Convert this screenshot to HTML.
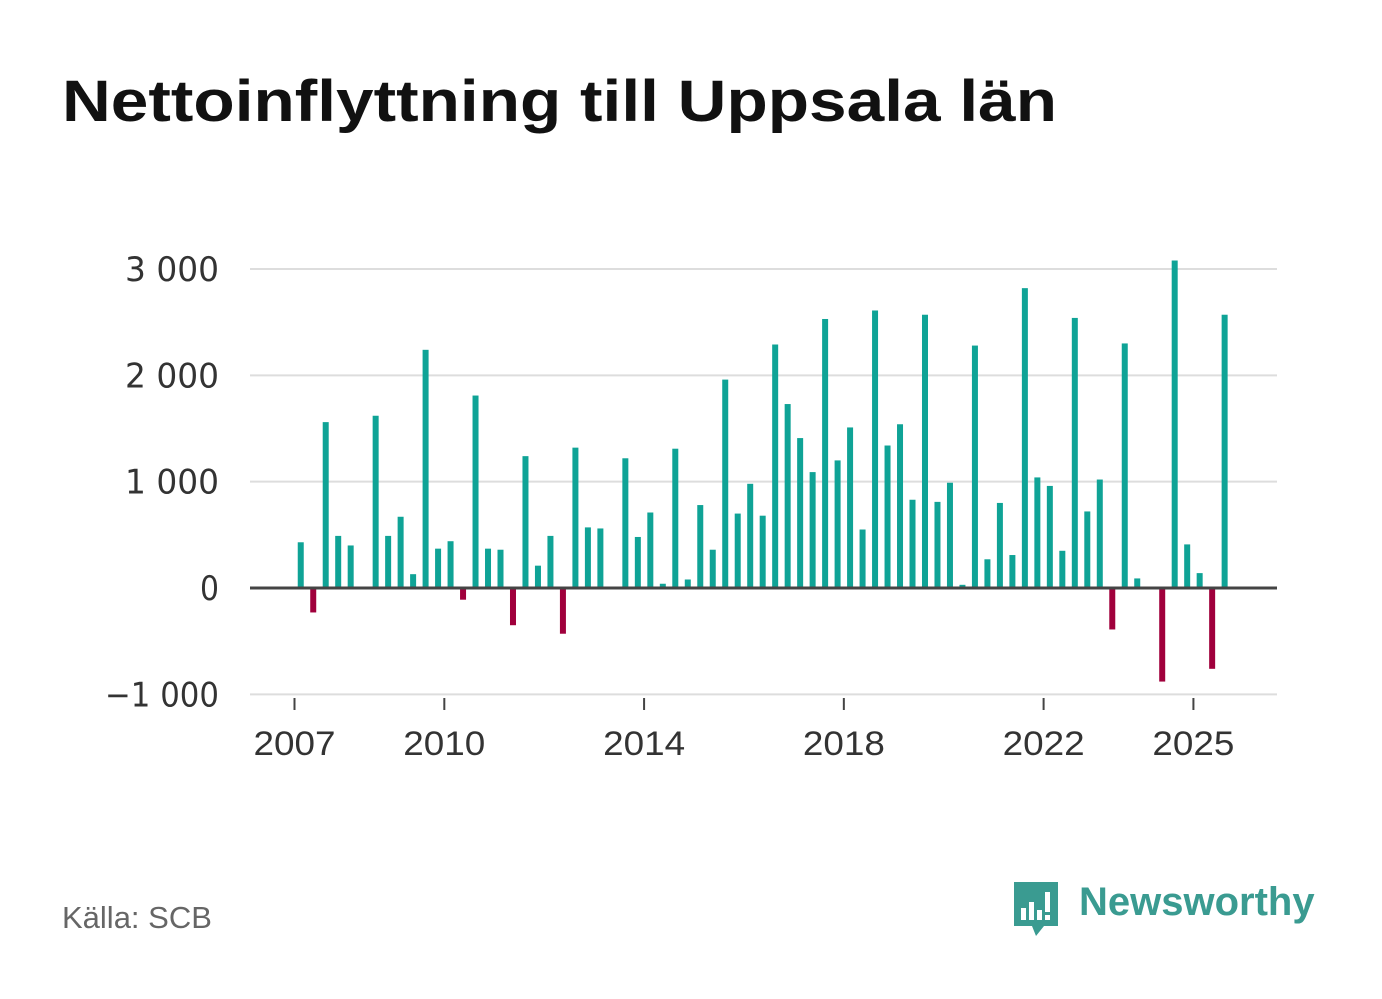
<!DOCTYPE html>
<html><head><meta charset="utf-8">
<style>
body{margin:0;background:#fff;font-family:"Liberation Sans","DejaVu Sans",sans-serif;}
#wrap{position:relative;width:1382px;height:999px;overflow:hidden;}
#src{position:absolute;left:62px;top:900px;font-size:31px;color:#666;}
#logo{position:absolute;left:1010px;top:878px;}
#logotext{position:absolute;left:1079px;top:880px;font-size:40px;font-weight:bold;color:#3a9b91;}
</style></head><body>
<div id="wrap">
<svg id="chart" width="1382" height="999" style="position:absolute;left:0;top:0">
<text x="62" y="121" font-size="58" font-weight="bold" fill="#111" textLength="995" lengthAdjust="spacingAndGlyphs" font-family="Liberation Sans, sans-serif">Nettoinflyttning till Uppsala län</text>
</svg>
<div id="src">Källa: SCB</div>
<svg id="logo" width="52" height="62" viewBox="0 0 52 62">
<path d="M4 4 H48 V48 H34 L26 58 L22 48 H4 Z" fill="#3a9b91"/>
<rect x="11" y="30" width="5" height="12" fill="#fff"/><rect x="19" y="24" width="5" height="18" fill="#fff"/><rect x="27" y="32" width="5" height="10" fill="#fff"/><rect x="35" y="14" width="5" height="20" fill="#fff"/><rect x="35" y="37" width="5" height="5" fill="#fff"/>
</svg>
<div id="logotext">Newsworthy</div>
</div>
<script>
const startYear = 2007;
const values = [430,-230,1560,490,400,0,1620,490,670,130,2240,370,440,-110,1810,370,360,-350,1240,210,490,-430,1320,570,560,0,1220,480,710,40,1310,80,780,360,1960,700,980,680,2290,1730,1410,1090,2530,1200,1510,550,2610,1340,1540,830,2570,810,990,30,2280,270,800,310,2820,1040,960,350,2540,720,1020,-390,2300,90,0,-880,3080,410,140,-760,2570];
const yTicks = [3000,2000,1000,0,-1000];
const yTickLabels = ["3 000","2 000","1 000","0","\u22121 000"];
const xTicks = [2007,2010,2014,2018,2022,2025];

const svg = document.getElementById('chart');
const NS = 'http://www.w3.org/2000/svg';
const x0 = 294.5, pxYear = 49.94;
function xYear(y){ return x0 + (y - startYear) * pxYear; }
function xIdx(i){ return xYear(startYear + (i + 0.5) / 4); }
function yVal(v){ return 588 - v * 0.10633; }
function el(t, a){ const e = document.createElementNS(NS, t); for (const k in a) e.setAttribute(k, a[k]); svg.appendChild(e); return e; }

yTicks.forEach((t, i) => {
  if (t !== 0) {
    const g = el('line', {x1:250, x2:1277, y1:yVal(t), y2:yVal(t), stroke:'#ddd', 'stroke-width':2});
    
    
  }
  const l = el('text', {x:219, y:yVal(t) + 12, 'text-anchor':'end', 'font-size':34, fill:'#333', 'font-family':'"DejaVu Sans", sans-serif', 'textLength': yTickLabels[i].length > 1 ? (yTickLabels[i].length > 5 ? 114 : 94) : 19, 'lengthAdjust':'spacingAndGlyphs'});
  l.textContent = yTickLabels[i];
  
  
});
values.forEach((v, i) => {
  const yv = yVal(v), y0 = yVal(0);
  const r = el('rect', {x:xIdx(i) - 3, y:Math.min(yv, y0), width:6, height:Math.abs(y0 - yv), fill: v < 0 ? '#a0003c' : '#0fa396'});
  
  
});
const z = el('line', {x1:250, x2:1277, y1:yVal(0), y2:yVal(0), stroke:'#444', 'stroke-width':3});


xTicks.forEach(t => {
  const tk = el('line', {x1:xYear(t), x2:xYear(t), y1:698, y2:710, stroke:'#444', 'stroke-width':2});
  
  
  const l = el('text', {x:xYear(t), y:755, 'text-anchor':'middle', 'font-size':34, fill:'#333', 'font-family':'"Liberation Sans", sans-serif', 'textLength':82, 'lengthAdjust':'spacingAndGlyphs'});
  l.textContent = t;
  
  
});
</script>
</body></html>
